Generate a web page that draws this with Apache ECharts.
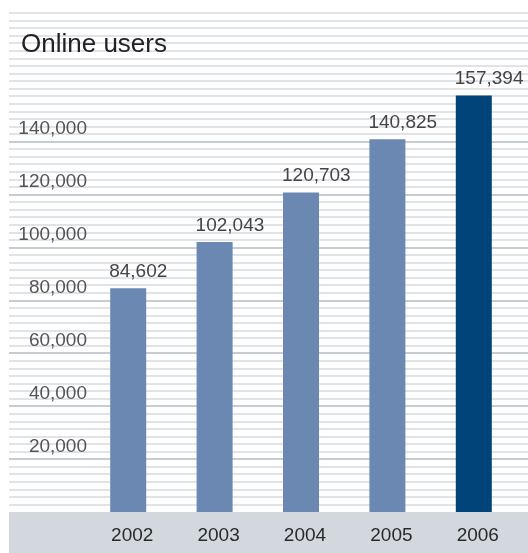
<!DOCTYPE html>
<html>
<head>
<meta charset="utf-8">
<script src="https://cdn.jsdelivr.net/npm/echarts@6/dist/echarts.min.js"></script>
<style>html,body{margin:0;padding:0;background:#fff;}#c{width:528px;height:553px;}</style>
</head>
<body>
<div id="c"></div>
<script>
const title = 'Online users';
const years = ['2002', '2003', '2004', '2005', '2006'];
const users = [84602, 102043, 120703, 140825, 157394];
const tickValues = [20000, 40000, 60000, 80000, 100000, 120000, 140000];
const yMax = 1320000 / 7;        // axis top (66 stripes of 20,000/7)
const stripeCount = 66;
const labeledMax = 140000;

const TOP = 13, BOTTOM = 41, HEIGHT = 553;
const plotH = HEIGHT - TOP - BOTTOM;
const topLabeled = TOP + plotH * (1 - labeledMax / yMax);
const FONT = '"Liberation Sans", Arial, sans-serif';

const chart = echarts.init(document.getElementById('c'), null, {renderer: 'canvas'});
chart.setOption({
  animation: false,
  backgroundColor: '#ffffff',
  title: {
    text: title, left: 16, top: 27,
    textStyle: {fontFamily: FONT, fontSize: 26, fontWeight: 'normal', color: '#222'}
  },
  graphic: [{
    type: 'rect', z: -10, silent: true,
    shape: {x: 9, y: HEIGHT - BOTTOM, width: 519, height: BOTTOM},
    style: {fill: '#d3d8de'}
  }],
  grid: [
    {left: 9, right: 0, top: TOP, bottom: BOTTOM},
    {left: 9, right: 0, top: topLabeled, bottom: BOTTOM},
    {left: 85, right: 11, top: TOP, bottom: BOTTOM}
  ],
  xAxis: [
    {gridIndex: 0, type: 'value', show: false, min: 0, max: 1},
    {gridIndex: 1, type: 'value', show: false, min: 0, max: 1},
    {gridIndex: 2, type: 'category', data: years,
      axisLine: {show: false}, axisTick: {show: false},
      axisLabel: {margin: 14, fontFamily: FONT, fontSize: 19, color: '#2a2a2a', padding: [0, 0, 0, 8]}}
  ],
  yAxis: [
    {gridIndex: 0, type: 'value', min: 0, max: stripeCount, interval: 1,
      axisLine: {show: false}, axisTick: {show: false}, axisLabel: {show: false},
      splitLine: {show: true, showMinLine: false, lineStyle: {color: '#d6dae0', width: 1.5}}},
    {gridIndex: 1, type: 'value', min: 0, max: labeledMax, interval: 20000,
      axisLine: {show: false}, axisTick: {show: false},
      axisLabel: {inside: true, margin: 78, align: 'right', verticalAlign: 'bottom',
        padding: [0, 0, 3, 0], showMinLabel: false,
        fontFamily: FONT, fontSize: 19, color: '#555',
        formatter: v => tickValues.indexOf(v) >= 0 ? v.toLocaleString('en-US') : ''},
      splitLine: {show: true, showMinLine: false, lineStyle: {color: '#c6ccd4', width: 2.2}}},
    {gridIndex: 2, type: 'value', min: 0, max: yMax, show: false, splitLine: {show: false}}
  ],
  series: [{
    type: 'bar', xAxisIndex: 2, yAxisIndex: 2, barWidth: 36, z: 5,
    data: users.map((v, i) => ({value: v, itemStyle: {color: i === users.length - 1 ? '#004479' : '#6b88b2'}})),
    label: {show: true, position: 'top', align: 'left', offset: [-19, 0], distance: 7,
      fontFamily: FONT, fontSize: 19, color: '#444',
      formatter: p => p.value.toLocaleString('en-US')}
  }]
});
</script>
</body>
</html>
